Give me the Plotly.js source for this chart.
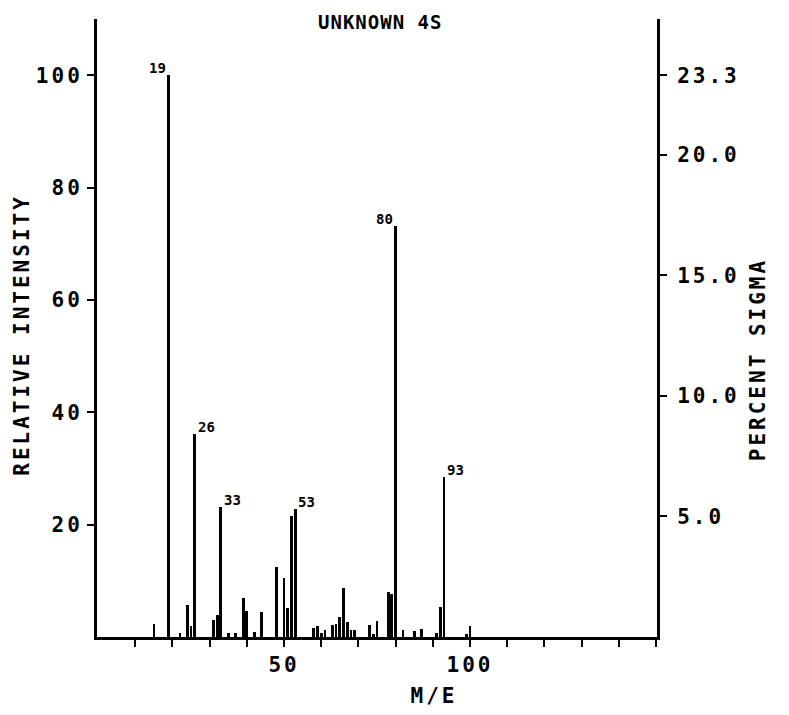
<!DOCTYPE html>
<html>
<head>
<meta charset="utf-8">
<script src="https://cdn.plot.ly/plotly-3.0.1.min.js"></script>
<style>
html,body{margin:0;padding:0;background:#fff;}
#chart{width:789px;height:715px;}
#chart .xtick text, #chart .ytick text, #chart .y2tick text { letter-spacing: 3px; }
#chart .annotation[data-index="6"] text { letter-spacing: 1px; }
#chart .annotation[data-index="7"] text,
#chart .annotation[data-index="8"] text,
#chart .annotation[data-index="9"] text { letter-spacing: 3px; }
</style>
</head>
<body>
<div id="chart"></div>
<script>
// m/e values and relative intensities
const mz = [15, 19, 22, 24, 25, 26, 31, 32, 33, 35, 37, 39, 40, 42, 44, 48, 50, 51, 52, 53,
            58, 59, 60, 61, 63, 64, 65, 66, 67, 68, 69, 73, 74, 75, 78, 79, 80,
            82, 85, 87, 91, 92, 93, 99, 100];
const intensity = [2.3, 100, 0.7, 5.7, 1.9, 36.2, 3.1, 3.9, 23.1, 0.8, 0.7, 7.0, 4.7, 0.9, 4.4, 12.4, 10.5, 5.2, 21.5, 22.8,
            1.6, 1.9, 0.7, 1.3, 2.2, 2.3, 3.6, 8.8, 2.6, 1.2, 1.3, 2.2, 0.6, 2.9, 8.0, 7.6, 73.1,
            1.3, 1.0, 1.4, 0.7, 5.3, 28.4, 0.6, 1.9];
// labelled peaks
const labelMz = [19, 26, 33, 53, 80, 93];
const labelText = ["19", "26", "33", "53", "80", "93"];
const labelSide = ["left", "right", "right", "right", "left", "right"];
// axis tick values
const xTicks = [10, 20, 30, 40, 50, 60, 70, 80, 90, 100, 110, 120, 130, 140, 150];
const xTickText = ["", "", "", "", "50", "", "", "", "", "100", "", "", "", "", ""];
const yTicks = [20, 40, 60, 80, 100];
const sigmaTicks = [5, 10, 15, 20, 23.3];
const sigmaTickText = ["5.0", "10.0", "15.0", "20.0", "23.3"];
const sigmaAtBase = 23.3; // percent sigma corresponding to relative intensity 100

const yMax = 110;
const FONT = "DejaVu Sans Mono, monospace";

const annotations = labelMz.map((m, i) => {
  const v = intensity[mz.indexOf(m)];
  return {
    x: m, y: v, xref: 'x', yref: 'y',
    text: '<b>' + labelText[i] + '</b>',
    showarrow: false,
    xanchor: labelSide[i] === 'left' ? 'right' : 'left',
    yanchor: 'bottom',
    xshift: labelSide[i] === 'left' ? -1 : 1,
    yshift: -3,
    font: {family: FONT, size: 14, color: '#000'}
  };
});
// titles (indices 6..9)
annotations.push({
  text: '<b>UNKNOWN 4S</b>', xref: 'paper', yref: 'paper',
  x: 0.505, y: 0.995, xanchor: 'center', yanchor: 'middle',
  showarrow: false, font: {family: FONT, size: 19, color: '#000'}
});
annotations.push({
  text: '<b>RELATIVE INTENSITY</b>', xref: 'paper', yref: 'paper',
  x: -0.134, y: 0.489, xanchor: 'center', yanchor: 'middle', textangle: -90,
  showarrow: false, font: {family: FONT, size: 21, color: '#000'}
});
annotations.push({
  text: '<b>PERCENT SIGMA</b>', xref: 'paper', yref: 'paper',
  x: 1.18, y: 0.45, xanchor: 'center', yanchor: 'middle', textangle: -90,
  showarrow: false, font: {family: FONT, size: 21, color: '#000'}
});
annotations.push({
  text: '<b>M/E</b>', xref: 'paper', yref: 'paper',
  x: 0.602, y: -0.0955, xanchor: 'center', yanchor: 'middle',
  showarrow: false, font: {family: FONT, size: 21, color: '#000'}
});

const data = [
  {type: 'bar', x: mz, y: intensity, width: 0.75,
   marker: {color: '#000', line: {width: 0}}, hoverinfo: 'x+y', showlegend: false},
  {type: 'scatter', x: [], y: [], yaxis: 'y2', showlegend: false, hoverinfo: 'skip'}
];

const tickFont = {family: FONT, size: 21, color: '#000', weight: 'bold'};

const layout = {
  width: 789, height: 715,
  paper_bgcolor: '#fff', plot_bgcolor: '#fff',
  margin: {l: 97, r: 132, t: 19, b: 78},
  showlegend: false,
  bargap: 0,
  font: {family: FONT, color: '#000'},
  xaxis: {
    range: [-0.3, 150.3], showgrid: false, zeroline: false,
    showline: true, linecolor: '#000', linewidth: 3,
    ticks: 'outside', ticklen: 7, tickwidth: 2, tickcolor: '#000',
    tickvals: xTicks, ticktext: xTickText, tickfont: tickFont
  },
  yaxis: {
    range: [0, yMax], showgrid: false, zeroline: false,
    showline: true, linecolor: '#000', linewidth: 3,
    ticks: 'outside', ticklen: 7, tickwidth: 2, tickcolor: '#000',
    tickvals: yTicks, tickfont: tickFont
  },
  yaxis2: {
    overlaying: 'y', side: 'right', anchor: 'x',
    range: [0, yMax * sigmaAtBase / 100], showgrid: false, zeroline: false,
    showline: true, linecolor: '#000', linewidth: 3,
    ticks: 'outside', ticklen: 7, tickwidth: 2, tickcolor: '#000',
    tickvals: sigmaTicks, ticktext: sigmaTickText, tickfont: tickFont,
    ticklabelstandoff: 6
  },
  annotations: annotations
};

Plotly.newPlot('chart', data, layout, {displayModeBar: false, staticPlot: true});
</script>
</body>
</html>
